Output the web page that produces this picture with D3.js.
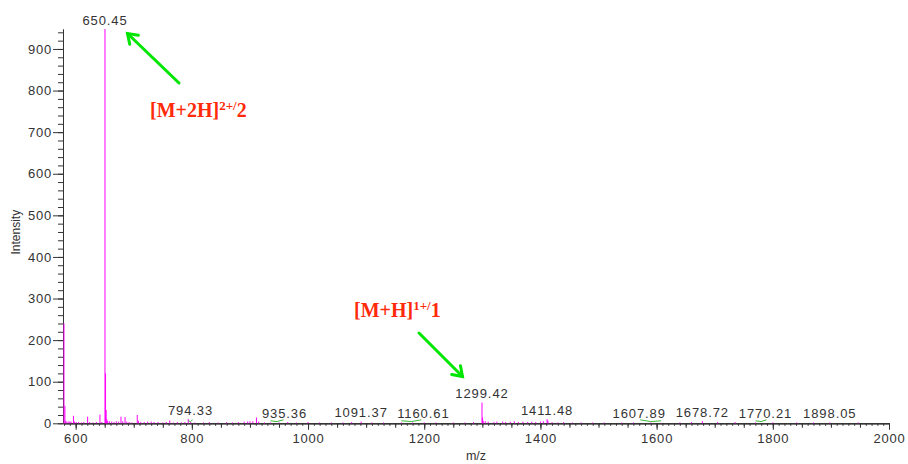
<!DOCTYPE html>
<html>
<head>
<meta charset="utf-8">
<script src="https://cdn.jsdelivr.net/npm/d3@7"></script>
<style>
  body { margin: 0; background: #fff; }
  svg { display: block; }
  .tick text { font-family: "Liberation Sans", Arial, sans-serif; font-size: 13px; fill: #333; letter-spacing: 0.8px; }
  .tick line, .domain { stroke: #333; }
</style>
</head>
<body>
<script>
// peak list (m/z, intensity)
const peakMz = [
  579.9, 581.5, 583, 585, 588.5, 590, 592, 596.2, 598, 601, 605, 610, 614, 620.6, 624, 630, 636, 641.8, 645,
  650.45, 651.45, 652.45, 653.5, 655, 658, 662, 666, 670, 674, 678, 681, 685, 688, 692, 697, 706, 708, 712,
  718, 724, 730, 735, 742, 750, 756, 762, 768, 775, 782, 788, 793.8, 798, 805, 820, 830, 845, 860, 870, 880,
  890, 896, 900, 905, 911.4, 915, 925, 935.36, 950, 965, 980, 1000, 1020, 1040, 1060, 1075, 1091.37, 1110,
  1130, 1160.61, 1180, 1200, 1220, 1250, 1270, 1285, 1299.42, 1300.4, 1301.5, 1305, 1310, 1320, 1325, 1335,
  1340, 1348, 1355, 1362, 1370, 1378, 1385, 1392, 1400, 1405, 1411.48, 1413, 1420, 1430, 1440, 1455, 1470,
  1490, 1510, 1540, 1560, 1590, 1607.89, 1640, 1660, 1678.72, 1705, 1735, 1770.21, 1800, 1841, 1870,
  1898.05, 1947
];
const peakIntensity = [
  240, 42, 6, 4, 5, 3, 4, 18, 4, 3, 3, 2, 3, 16, 3, 2, 3, 21, 3,
  948, 120, 32, 10, 6, 5, 4, 3, 5, 4, 16, 5, 15, 4, 3, 2, 20, 6, 3,
  3, 4, 4, 3, 3, 2, 3, 7, 2, 3, 2, 3, 10, 3, 2, 2, 3, 2, 3, 2, 3,
  4, 4, 5, 5, 14, 4, 2, 2, 2, 3, 2, 3, 2, 2, 2, 3, 4, 2,
  2, 2, 2, 2, 2, 2, 2, 3, 50, 14, 6, 5, 4, 3, 4, 4,
  3, 4, 5, 3, 4, 3, 4, 3, 4, 5, 10, 6, 3, 2, 3, 2, 2,
  2, 2, 2, 2, 2, 1, 2, 3, 5, 3, 3, 2, 2, 2, 2,
  2, 2
];

// labelled peaks
const labelMz = [650.45, 794.33, 935.36, 1091.37, 1160.61, 1299.42, 1411.48, 1607.89, 1678.72, 1770.21, 1898.05];

// axis ticks
const xMajorTicks = [600, 800, 1000, 1200, 1400, 1600, 1800, 2000];
const yMajorTicks = [0, 100, 200, 300, 400, 500, 600, 700, 800, 900];

const width = 908, height = 464;
const plotLeft = 63, plotRight = 889, plotTop = 29, plotBottom = 423.3;

const svg = d3.select("body").append("svg")
  .attr("width", width)
  .attr("height", height);

const x = d3.scaleLinear().domain([578.2, 2000]).range([plotLeft, plotRight]);
const y = d3.scaleLinear().domain([0, 948]).range([plotBottom, plotTop]);

// x axis: minor / medium / labelled ticks
svg.append("g")
  .attr("transform", `translate(0,${plotBottom})`)
  .call(d3.axisBottom(x).tickValues(d3.range(580, 2001, 10)).tickSize(2.5).tickSizeOuter(0).tickFormat(""));
svg.append("g")
  .attr("transform", `translate(0,${plotBottom})`)
  .call(d3.axisBottom(x).tickValues(d3.range(600, 2001, 50)).tickSize(4.5).tickSizeOuter(0).tickFormat(""));
svg.append("g")
  .attr("transform", `translate(0,${plotBottom})`)
  .call(d3.axisBottom(x).tickValues(xMajorTicks).tickSize(6.5).tickPadding(4).tickSizeOuter(0).tickFormat(d3.format("d")));

// y axis
svg.append("g")
  .attr("transform", `translate(${plotLeft},0)`)
  .call(d3.axisLeft(y).tickValues(d3.range(0, 941, 20)).tickSize(5).tickSizeOuter(0).tickFormat(""));
svg.append("g")
  .attr("transform", `translate(${plotLeft},0)`)
  .call(d3.axisLeft(y).tickValues(yMajorTicks).tickSize(10).tickPadding(1).tickSizeOuter(0).tickFormat(d3.format("d")));

// axis titles
svg.append("text")
  .attr("transform", `translate(17,${(plotTop + plotBottom) / 2 + 6}) rotate(-90)`)
  .attr("text-anchor", "middle")
  .attr("dominant-baseline", "middle")
  .style("font-family", "'Liberation Sans', Arial, sans-serif")
  .style("font-size", "12px")
  .attr("fill", "#333")
  .text("Intensity");

svg.append("text")
  .attr("x", 476)
  .attr("y", 460)
  .attr("text-anchor", "middle")
  .style("font-family", "'Liberation Sans', Arial, sans-serif")
  .style("font-size", "12.5px")
  .attr("fill", "#333")
  .text("m/z");

// sticks
const peaks = peakMz.map((m, i) => ({ mz: m, h: peakIntensity[i] }));
svg.append("g")
  .selectAll("line")
  .data(peaks)
  .join("line")
  .attr("x1", d => x(d.mz))
  .attr("x2", d => x(d.mz))
  .attr("y1", y(0))
  .attr("y2", d => y(d.h))
  .attr("stroke", "#ff00ff")
  .attr("stroke-width", 1);

// peak labels, with the small shifts used in the original
const labelShift = [0, 2, 14, 0, 22, 0, 0, -22, 0, 10, 0];
const leaderLen = [0, 4, 13, 0, 20, 0, 0, -21, 0, 11, 0];
const labels = labelMz.map((m, i) => {
  const p = peaks.reduce((a, b) => Math.abs(b.mz - m) < Math.abs(a.mz - m) ? b : a);
  return { mz: m, h: p.h, shift: labelShift[i], lead: leaderLen[i] };
});

svg.append("g")
  .selectAll("path")
  .data(labels.filter(d => d.lead !== 0))
  .join("path")
  .attr("d", d => {
    const x0 = x(d.mz), x1 = x(d.mz) + d.lead, yy = y(0) - 2.5;
    return `M${x0},${yy} Q${(x0 + x1) / 2},${yy + 2} ${x1},${yy - 1}`;
  })
  .attr("fill", "none")
  .attr("stroke", "#3cb83c")
  .attr("stroke-width", 1);

svg.append("g")
  .selectAll("text")
  .data(labels)
  .join("text")
  .attr("x", d => x(d.mz) + d.shift)
  .attr("y", d => Math.min(y(d.h), y(0) - 1) - 4.5)
  .attr("text-anchor", "middle")
  .style("font-family", "'Liberation Sans', Arial, sans-serif")
  .style("font-size", "13px")
  .style("letter-spacing", "0.9px")
  .attr("fill", "#333")
  .text(d => d.mz.toFixed(2));

// annotations
function ion(xp, yp, main, sup, tail) {
  const t = svg.append("text")
    .attr("x", xp)
    .attr("y", yp)
    .style("font-family", "'Liberation Serif', 'Times New Roman', serif")
    .style("font-weight", "bold")
    .style("font-size", "20px")
    .attr("fill", "#ff2a0a");
  t.append("tspan").text(main);
  t.append("tspan").attr("dy", -7).style("font-size", "13px").text(sup);
  t.append("tspan").attr("dy", 7).text(tail);
}
ion(150, 117, "[M+2H]", "2+/", "2");
ion(354, 316.5, "[M+H]", "1+/", "1");

function arrow(x0, y0, x1, y1) {
  const g = svg.append("g")
    .attr("stroke", "#00e600")
    .attr("stroke-width", 3)
    .attr("stroke-linecap", "round")
    .attr("fill", "none");
  g.append("line").attr("x1", x0).attr("y1", y0).attr("x2", x1).attr("y2", y1);
  const a = Math.atan2(y0 - y1, x0 - x1);
  const len = 11, spread = 0.6;
  g.append("path")
    .attr("d", `M${x1 + len * Math.cos(a - spread)},${y1 + len * Math.sin(a - spread)} L${x1},${y1} L${x1 + len * Math.cos(a + spread)},${y1 + len * Math.sin(a + spread)}`);
}
arrow(179, 83, 127.5, 33.5);
arrow(419, 333, 462.5, 376.5);
</script>
</body>
</html>
